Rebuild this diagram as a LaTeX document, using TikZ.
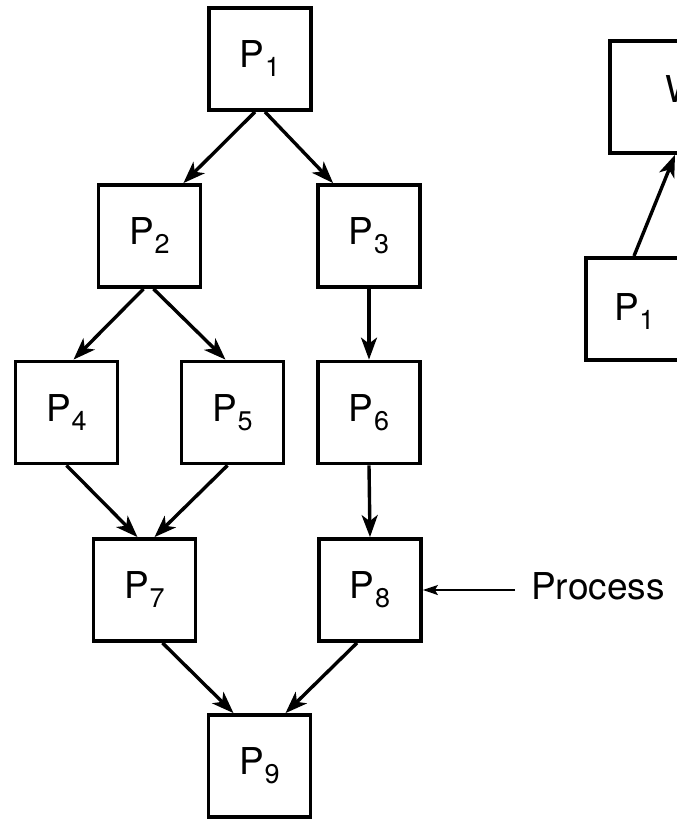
\documentclass[tikz,border=0pt]{standalone}
\usepackage{fontspec}
\setmainfont{TeX Gyre Heros}
\usetikzlibrary{arrows.meta,calc}
\newcommand\Psb[1]{P\kern0.5pt\raisebox{-9pt}{\fontsize{27}{27}\selectfont #1}}
\tikzset{
  pbox/.style={draw, line width=3.8pt, minimum width=102pt, minimum height=102pt, inner sep=0pt, font=\fontsize{37}{37}\selectfont},
  arr/.style={line width=3.4pt, -{Stealth[length=22pt,width=16pt,inset=6pt]}},
  thinarr/.style={line width=1.6pt, -{Stealth[length=15pt,width=10pt,inset=3pt]}},
}
\begin{document}
\begin{tikzpicture}[x=1pt,y=-1pt]
\useasboundingbox (0,0) rectangle (677,820);
\clip (0,0) rectangle (677,820);
\node[pbox] (P1) at (260,59) {\Psb{1}};
\node[pbox] (P2) at (149.5,236) {\Psb{2}};
\node[pbox] (P3) at (369,236) {\Psb{3}};
\node[pbox] (P4) at (66.5,412.5) {\Psb{4}};
\node[pbox] (P5) at (232.5,412.5) {\Psb{5}};
\node[pbox] (P6) at (369,412.5) {\Psb{6}};
\node[pbox] (P7) at (144.5,590) {\Psb{7}};
\node[pbox] (P8) at (370,590) {\Psb{8}};
\node[pbox] (P9) at (259.5,766) {\Psb{9}};
% right partial boxes
\node[draw, line width=3.8pt, minimum width=130pt, minimum height=112pt, anchor=north west, inner sep=0pt] (W) at (608,39) {};
\node[anchor=base west, inner sep=0pt, font=\fontsize{37}{37}\selectfont] (Wt) at (665,102) {W};
\node[draw, line width=3.8pt, minimum width=130pt, minimum height=102pt, anchor=north west, inner sep=0pt] (Q1) at (584,256) {};
\node[anchor=base west, inner sep=0pt, font=\fontsize{37}{37}\selectfont] (Q1t) at (614,320) {\Psb{1}};
\draw[arr] ([xshift=50pt]Q1.north west) -- ([xshift=67pt]W.south west);
% process label
\node[anchor=base west, inner sep=0pt, font=\fontsize{37}{37}\selectfont] (proc) at (531,599) {Process};
\coordinate (pstart) at (515,590);
\draw[thinarr] (pstart) -- (P8.east);
% edges
\draw[arr] ([xshift=-5pt]P1.south) -- ([xshift=-19pt]P2.north east);
\draw[arr] ([xshift=5pt]P1.south) -- ([xshift=17pt]P3.north west);
\draw[arr] ([xshift=-6pt]P2.south) -- ([xshift=7pt]P4.north);
\draw[arr] ([xshift=4pt]P2.south) -- ([xshift=-7pt]P5.north);
\draw[arr] (P3.south) -- (P6.north);
\draw[arr] (P4.south) -- ([xshift=-7pt]P7.north);
\draw[arr] ([xshift=-5pt]P5.south) -- ([xshift=10pt]P7.north);
\draw[arr] (P6.south) -- (P8.north);
\draw[arr] ([xshift=18pt]P7.south) -- ([xshift=-26pt]P9.north);
\draw[arr] ([xshift=-13pt]P8.south) -- ([xshift=26pt]P9.north);
\end{tikzpicture}
\end{document}
